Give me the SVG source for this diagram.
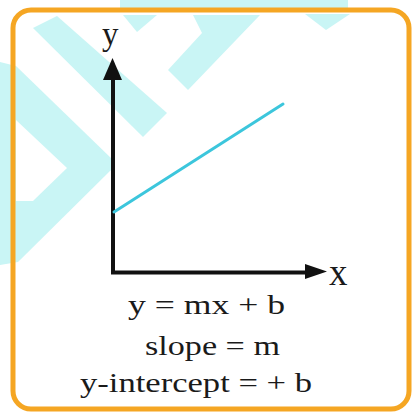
<svg xmlns="http://www.w3.org/2000/svg" width="412" height="415" viewBox="0 0 412 415">
  <style>
    .wm { fill: #c9f5f5; }
    .frame { fill: none; stroke: #f5a623; stroke-width: 5; }
    .axis { stroke: #111; stroke-width: 4; fill: none; }
    .head { fill: #111; }
    .graph { stroke: #3cc6dc; stroke-width: 3; stroke-linecap: round; fill: none; }
    .t { font-family: "Liberation Serif", "Times New Roman", serif; fill: #1a1a1a; }
    .eq { font-size: 28px; }
  </style>
  <rect x="0" y="0" width="412" height="415" fill="#ffffff"/>

  <g id="watermark">
    <rect class="wm" x="120" y="0" width="228" height="8"/>
    <polygon class="wm" points="33,28 57,16 167,113 143,137"/>
    <polygon class="wm" points="123,15 157,15 137,32"/>
    <polygon class="wm" points="193,15 260,15 188,90 168,70 202,33"/>
    <polygon class="wm" points="305,14 350,14 326,30"/>
    <polygon class="wm" points="0,62 16,66 113,160 113,168 18,262 0,265"/>
    <polygon fill="#ffffff" points="16,120 67,168 33,201 16,201"/>
  </g>

  <g id="frame">
    <rect class="frame" x="13" y="10" width="396" height="399" rx="18" ry="18"/>
  </g>

  <g id="connectors">
    <line class="axis" x1="113" y1="274" x2="113" y2="76"/>
    <polygon class="head" points="112.5,58 103,80 122,80"/>
    <line class="axis" x1="111" y1="272.5" x2="308" y2="272.5"/>
    <polygon class="head" points="327,271.5 305,264 305,279"/>
  </g>

  <g id="line">
    <line class="graph" x1="114" y1="212" x2="283" y2="104"/>
  </g>

  <g id="labels">
    <text class="t" x="102" y="45" font-size="33">y</text>
    <text class="t" x="329" y="285" font-size="37">x</text>
    <text class="t eq" x="128" y="314" textLength="157" lengthAdjust="spacingAndGlyphs">y = mx + b</text>
    <text class="t eq" x="145" y="355" textLength="135" lengthAdjust="spacingAndGlyphs">slope = m</text>
    <text class="t eq" x="80" y="392" textLength="232" lengthAdjust="spacingAndGlyphs">y-intercept = + b</text>
  </g>
</svg>
